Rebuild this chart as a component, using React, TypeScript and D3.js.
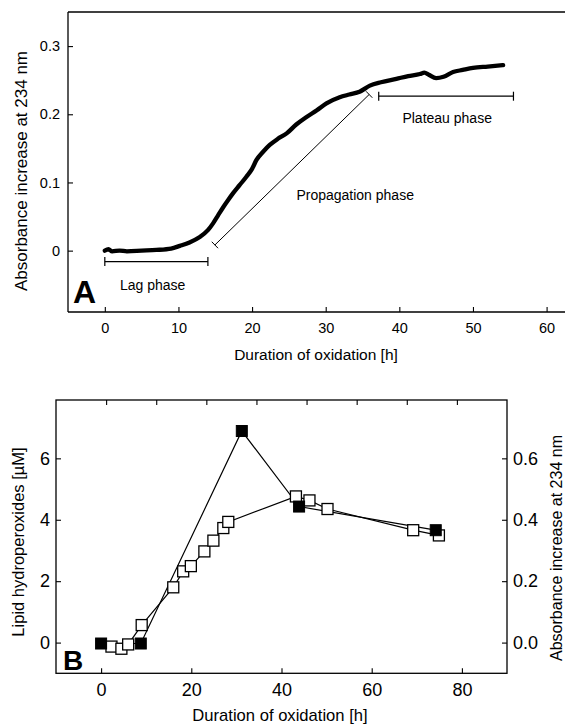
import { useEffect, useRef } from "react";
import * as d3 from "d3";

const FONT = "'Liberation Sans', Arial, Helvetica, sans-serif";

// Panel A: absorbance trace over time
const traceHours = [
  0, 0.5, 1, 2, 3, 5, 7, 9, 10.2, 11.5, 12.9, 14, 14.7, 15.4, 16.1, 16.8, 17.4, 18.3, 19.2, 20,
  20.6, 21.5, 22.4, 23.5, 24.7, 26, 27.4, 28.8, 30.1, 31.9, 33.2, 34.6, 36, 37.5, 39.6, 41.2,
  42.8, 43.4, 44, 45, 46, 47.3, 48.6, 50, 52, 54.1,
];
const traceAbs = [
  0, 0.002, -0.001, 0, -0.001, 0, 0.001, 0.003, 0.007, 0.012, 0.02, 0.03, 0.04, 0.052, 0.064,
  0.075, 0.084, 0.096, 0.108, 0.12, 0.133, 0.145, 0.155, 0.164, 0.172, 0.185, 0.196, 0.206, 0.216,
  0.225, 0.229, 0.233, 0.242, 0.247, 0.252, 0.256, 0.259, 0.261, 0.258, 0.253, 0.255, 0.262, 0.265,
  0.268, 0.27, 0.272,
];
const aXTicks = [0, 10, 20, 30, 40, 50, 60];
const aYTicks = [0, 0.1, 0.2, 0.3];

const phaseLabels = ["Lag phase", "Propagation phase", "Plateau phase"];
const phaseLabelX = [6.5, 34, 46.5];
const phaseLabelY = [-0.05, 0.0816, 0.194];
const lagBracket = [0, 14, -0.016];
const plateauBracket = [37.2, 55.5, 0.2265];
const propagationLine = [14.95, 0.0083, 35.9, 0.229];

// Panel B
const filledHours = [0, 8.8, 31.2, 43.9, 74.2];
const filledHydroperox = [-0.03, -0.03, 6.89, 4.43, 3.66];
const openHours = [2.3, 4.5, 6, 9, 16, 18.2, 19.9, 22.9, 24.9, 27.1, 28.2, 43.2, 46.2, 50.2, 69.2, 74.9];
const openAbs = [
  -0.013, -0.02, -0.006, 0.057, 0.18, 0.232, 0.249, 0.297, 0.332, 0.373, 0.393, 0.476, 0.463,
  0.435, 0.366, 0.349,
];
const bXTicks = [0, 20, 40, 60, 80];
const bTopTicks = [0, 10, 20, 30, 40, 50, 60, 70];
const bLeftTicks = [0, 2, 4, 6];
const bRightTicks = [0, 0.2, 0.4, 0.6];

export default function App() {
  const svgRef = useRef<SVGSVGElement | null>(null);

  useEffect(() => {
    if (!svgRef.current) return;
    const svg = d3.select(svgRef.current);
    svg.selectAll("*").remove();

    const styleAxis = (g: any, size: number) => {
      g.select(".domain").remove();
      g.selectAll("line").attr("stroke", "#000").attr("stroke-width", 1.1);
      g.selectAll("text").style("font-family", FONT).style("font-size", `${size}px`).attr("fill", "#000");
    };

    // ---------- Panel A ----------
    const xA = d3.scaleLinear().domain([-5, 62.5]).range([68, 565]);
    const yA = d3.scaleLinear().domain([-0.09, 0.35]).range([312, 12]);
    const a = svg.append("g");

    a.append("g")
      .attr("transform", `translate(0,${yA.range()[0]})`)
      .call(d3.axisBottom(xA).tickValues(aXTicks).tickSizeInner(-5).tickSizeOuter(0).tickPadding(10.5))
      .call((g: any) => styleAxis(g, 14.5));
    a.append("g")
      .attr("transform", `translate(${xA.range()[0]},0)`)
      .call(
        d3.axisLeft(yA).tickValues(aYTicks).tickSizeInner(-5).tickSizeOuter(0).tickPadding(8)
          .tickFormat((d: any) => (d === 0 ? "0" : d3.format(".1f")(d)))
      )
      .call((g: any) => styleAxis(g, 14.5));

    // frame (right edge lies off the page)
    const frameA = [
      [xA.range()[0], yA.range()[1], xA.range()[1], yA.range()[1]],
      [xA.range()[0], yA.range()[0], xA.range()[1], yA.range()[0]],
      [xA.range()[0], yA.range()[1], xA.range()[0], yA.range()[0]],
    ];
    a.selectAll(".frameA")
      .data(frameA)
      .enter()
      .append("line")
      .attr("x1", (d) => d[0]).attr("y1", (d) => d[1]).attr("x2", (d) => d[2]).attr("y2", (d) => d[3])
      .attr("stroke", "#000").attr("stroke-width", 1.3);

    const trace = traceHours.map((t, i) => [t, traceAbs[i]]);
    a.append("path")
      .datum(trace)
      .attr("fill", "none")
      .attr("stroke", "#000")
      .attr("stroke-width", 4.3)
      .attr("stroke-linejoin", "round")
      .attr("stroke-linecap", "round")
      .attr("d", d3.line<number[]>().x((d) => xA(d[0])).y((d) => yA(d[1])).curve(d3.curveMonotoneX));

    // brackets
    const cap = 4.5;
    [lagBracket, plateauBracket].forEach((b) => {
      const x1 = xA(b[0]), x2 = xA(b[1]), y = yA(b[2]);
      a.append("line").attr("x1", x1).attr("x2", x2).attr("y1", y).attr("y2", y).attr("stroke", "#000").attr("stroke-width", 1.2);
      [x1, x2].forEach((x) =>
        a.append("line").attr("x1", x).attr("x2", x).attr("y1", y - cap).attr("y2", y + cap).attr("stroke", "#000").attr("stroke-width", 1.2)
      );
    });
    {
      const px1 = xA(propagationLine[0]), py1 = yA(propagationLine[1]);
      const px2 = xA(propagationLine[2]), py2 = yA(propagationLine[3]);
      const len = Math.hypot(px2 - px1, py2 - py1);
      const nx = -(py2 - py1) / len, ny = (px2 - px1) / len;
      a.append("line").attr("x1", px1).attr("y1", py1).attr("x2", px2).attr("y2", py2).attr("stroke", "#000").attr("stroke-width", 1);
      [[px1, py1], [px2, py2]].forEach(([x, y]) =>
        a.append("line")
          .attr("x1", x - nx * cap).attr("y1", y - ny * cap)
          .attr("x2", x + nx * cap).attr("y2", y + ny * cap)
          .attr("stroke", "#000").attr("stroke-width", 1)
      );
    }

    a.selectAll(".phase")
      .data(phaseLabels)
      .enter()
      .append("text")
      .attr("x", (_, i) => xA(phaseLabelX[i]))
      .attr("y", (_, i) => yA(phaseLabelY[i]))
      .attr("text-anchor", "middle")
      .attr("dominant-baseline", "central")
      .style("font-family", FONT)
      .style("font-size", "14px")
      .text((d) => d);

    a.append("text")
      .attr("x", 73).attr("y", 303)
      .style("font-family", FONT).style("font-size", "32px").style("font-weight", "bold")
      .text("A");

    a.append("text")
      .attr("transform", "translate(21,171) rotate(-90)")
      .attr("text-anchor", "middle")
      .attr("dominant-baseline", "central")
      .style("font-family", FONT).style("font-size", "17px")
      .text("Absorbance increase at 234 nm");

    a.append("text")
      .attr("x", 316).attr("y", 360)
      .attr("text-anchor", "middle")
      .style("font-family", FONT).style("font-size", "15.5px")
      .text("Duration of oxidation [h]");

    // ---------- Panel B ----------
    const xB = d3.scaleLinear().domain([-10, 90]).range([56, 507]);
    const xBTop = d3.scaleLinear().domain([-10, 80]).range([56, 507]);
    const yBL = d3.scaleLinear().domain([-1, 7.9]).range([673.3, 400]);
    const yBR = d3.scaleLinear().domain([-0.1, 0.79]).range([673.3, 400]);
    const b = svg.append("g");

    b.append("g")
      .attr("transform", `translate(0,${yBL.range()[0]})`)
      .call(d3.axisBottom(xB).tickValues(bXTicks).tickSizeInner(-5).tickSizeOuter(0).tickPadding(10))
      .call((g: any) => styleAxis(g, 18));
    b.append("g")
      .attr("transform", `translate(0,${yBL.range()[1]})`)
      .call(d3.axisTop(xBTop).tickValues(bTopTicks).tickSizeInner(-5).tickSizeOuter(0).tickFormat(() => ""))
      .call((g: any) => styleAxis(g, 18));
    b.append("g")
      .attr("transform", `translate(${xB.range()[0]},0)`)
      .call(d3.axisLeft(yBL).tickValues(bLeftTicks).tickSizeInner(-5).tickSizeOuter(0).tickPadding(6))
      .call((g: any) => styleAxis(g, 18));
    b.append("g")
      .attr("transform", `translate(${xB.range()[1]},0)`)
      .call(
        d3.axisRight(yBR).tickValues(bRightTicks).tickSizeInner(-5).tickSizeOuter(0).tickPadding(6)
          .tickFormat(d3.format(".1f") as any)
      )
      .call((g: any) => styleAxis(g, 18));

    b.append("rect")
      .attr("x", xB.range()[0]).attr("y", yBL.range()[1])
      .attr("width", xB.range()[1] - xB.range()[0])
      .attr("height", yBL.range()[0] - yBL.range()[1])
      .attr("fill", "none").attr("stroke", "#000").attr("stroke-width", 1.3);

    const openPts = openHours.map((t, i) => [xB(t), yBR(openAbs[i])]);
    const filledPts = filledHours.map((t, i) => [xB(t), yBL(filledHydroperox[i])]);
    const lineGen = d3.line<number[]>().x((d) => d[0]).y((d) => d[1]);

    b.append("path").datum(openPts).attr("fill", "none").attr("stroke", "#000").attr("stroke-width", 1.2).attr("d", lineGen);
    b.append("path").datum(filledPts).attr("fill", "none").attr("stroke", "#000").attr("stroke-width", 1.2).attr("d", lineGen);

    const sq = 11;
    b.selectAll(".open")
      .data(openPts)
      .enter()
      .append("rect")
      .attr("x", (d) => d[0] - sq / 2).attr("y", (d) => d[1] - sq / 2)
      .attr("width", sq).attr("height", sq)
      .attr("fill", "#fff").attr("stroke", "#000").attr("stroke-width", 1.3);
    b.selectAll(".filled")
      .data(filledPts)
      .enter()
      .append("rect")
      .attr("x", (d) => d[0] - sq / 2).attr("y", (d) => d[1] - sq / 2)
      .attr("width", sq).attr("height", sq)
      .attr("fill", "#000").attr("stroke", "#000").attr("stroke-width", 1);

    b.append("text")
      .attr("x", 63).attr("y", 670)
      .style("font-family", FONT).style("font-size", "28px").style("font-weight", "bold")
      .text("B");

    b.append("text")
      .attr("transform", "translate(18,542) rotate(-90)")
      .attr("text-anchor", "middle")
      .attr("dominant-baseline", "central")
      .style("font-family", FONT).style("font-size", "16.5px")
      .text("Lipid hydroperoxides [µM]");

    b.append("text")
      .attr("transform", "translate(556,548) rotate(-90)")
      .attr("text-anchor", "middle")
      .attr("dominant-baseline", "central")
      .style("font-family", FONT).style("font-size", "16px")
      .text("Absorbance increase at 234 nm");

    b.append("text")
      .attr("x", 280).attr("y", 721)
      .attr("text-anchor", "middle")
      .style("font-family", FONT).style("font-size", "16.6px")
      .text("Duration of oxidation [h]");
  }, []);

  return (
    <svg
      ref={svgRef}
      width={565}
      height={728}
      style={{ position: "absolute", left: 0, top: 0, background: "#fff" }}
    />
  );
}
